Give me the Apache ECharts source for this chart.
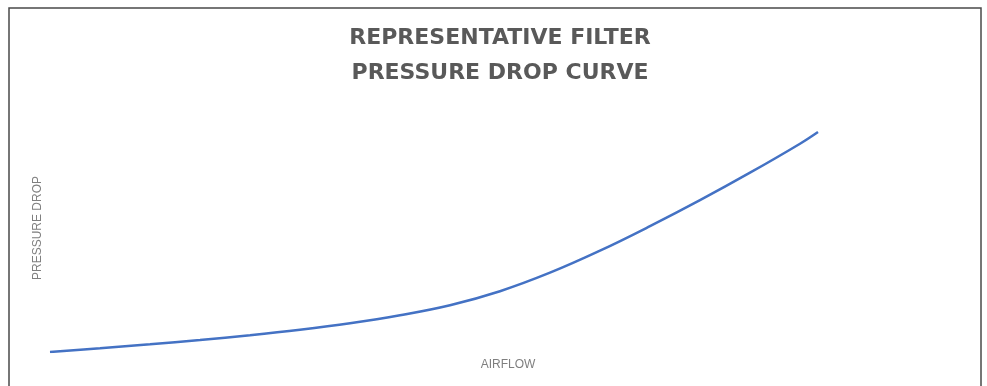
<!DOCTYPE html>
<html>
<head>
<meta charset="utf-8">
<script src="https://cdn.jsdelivr.net/npm/echarts@6/dist/echarts.min.js"></script>
<style>html,body{margin:0;padding:0;background:#fff;}#c{width:987px;height:386px;}</style>
</head>
<body>
<div id="c"></div>
<script>
const titleLines = ['REPRESENTATIVE FILTER', 'PRESSURE DROP CURVE'];
const xName = 'AIRFLOW';
const yName = 'PRESSURE DROP';
const airflow = [0, 50, 100, 150, 200, 250, 300, 350, 400, 450, 500, 550, 600, 650, 700, 750, 768];
const pressureDrop = [0, 3.8, 7.8, 12, 16.8, 22.3, 28.8, 36.8, 46.8, 60.8, 79.3, 101.3, 125.8, 151.8, 179.3, 208.3, 220];

const chart = echarts.init(document.getElementById('c'));
chart.setOption({
  backgroundColor: '#ffffff',
  animation: false,
  title: {
    text: titleLines.join('\n'),
    left: 495, top: 16, textAlign: 'center',
    textStyle: { fontFamily: 'DejaVu Sans', fontWeight: 'bold', fontSize: 22, color: '#595959', lineHeight: 35 }
  },
  graphic: [
    { type: 'rect', shape: { x: 9, y: 8, width: 972, height: 400 }, style: { fill: null, stroke: '#4a4a4a', lineWidth: 1.5 }, silent: true },
    { type: 'text', x: 508, y: 365, style: { text: xName, font: '12px "Liberation Sans", sans-serif', fill: '#7f7f7f', align: 'center', verticalAlign: 'middle' } },
    { type: 'text', x: 38, y: 228, rotation: Math.PI / 2, style: { text: yName, font: '12px "Liberation Sans", sans-serif', fill: '#7f7f7f', align: 'center', verticalAlign: 'middle' } }
  ],
  grid: { left: 50, right: 169, top: 132, bottom: 34 },
  xAxis: { type: 'value', min: 0, max: 768, show: false },
  yAxis: { type: 'value', min: 0, max: 220, show: false },
  series: [{
    type: 'line',
    data: airflow.map((x, i) => [x, pressureDrop[i]]),
    smooth: 0.4,
    symbol: 'none',
    lineStyle: { color: '#4472C4', width: 2.5 }
  }]
});
</script>
</body>
</html>
